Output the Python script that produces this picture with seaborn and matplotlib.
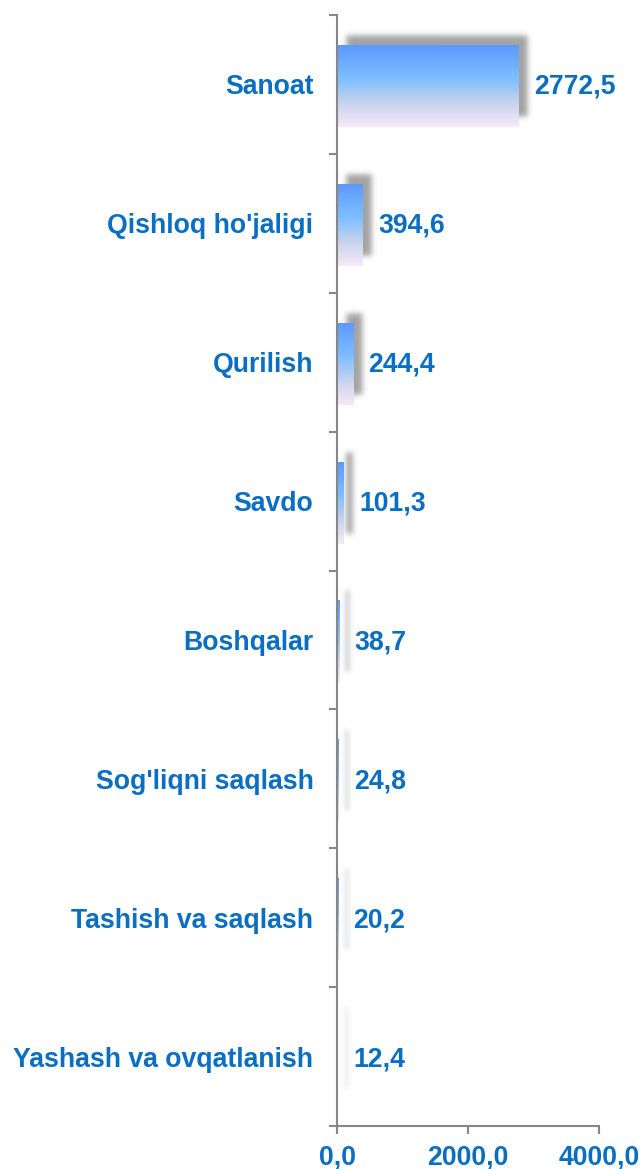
import math
import numpy as np
import pandas as pd
import matplotlib
matplotlib.use("Agg")
import matplotlib.pyplot as plt
import seaborn as sns
from matplotlib.ticker import FuncFormatter, FixedLocator

categories = ["Sanoat", "Qishloq ho'jaligi", "Qurilish", "Savdo", "Boshqalar",
              "Sog'liqni saqlash", "Tashish va saqlash", "Yashash va ovqatlanish"]
values = [2772.5, 394.6, 244.4, 101.3, 38.7, 24.8, 20.2, 12.4]
value_labels = ["2772,5", "394,6", "244,4", "101,3", "38,7", "24,8", "20,2", "12,4"]
x_ticks = [0, 2000, 4000]

df = pd.DataFrame({"cat": categories, "val": values})

sns.set_theme(style="white")
plt.rcParams["font.family"] = ["Liberation Sans", "DejaVu Sans"]
plt.rcParams["font.weight"] = "bold"

BLUE = "#0A6FC2"
GRAY = "#878787"
FS = 19.2

fig = plt.figure(figsize=(6.43, 11.69), dpi=100)
W, H = 643, 1169
ax = fig.add_axes([337 / W, 1 - 1126 / H, (599 - 337) / W, (1126 - 15) / H])

sns.barplot(data=df, x="val", y="cat", orient="h", width=0.59, ax=ax,
            color="#5B9BFF", saturation=1)
ax.set_xlim(0, 4000)
ax.set_ylim(7.5, -0.5)

# pixel <-> data scale
px_x = 4000 / (599 - 337)
px_y = 8 / (1126 - 15)

# gradient
stops = np.array([0.0, 0.42, 0.68, 1.0])
cols = np.array([[0.36, 0.60, 1.00],
                 [0.50, 0.75, 1.00],
                 [0.76, 0.82, 0.93],
                 [0.98, 0.91, 0.97]])
t = np.linspace(0, 1, 200)
grad = np.stack([np.interp(t, stops, cols[:, k]) for k in range(3)], axis=1)
grad_img = grad[:, None, :]

verf = np.frompyfunc(math.erf, 1, 1)

def soft(u, a, b, s):
    return 0.5 * (verf((u - a) / s).astype(float) - verf((u - b) / s).astype(float))

for p in ax.patches:
    x0 = p.get_x()
    w = p.get_width()
    y0 = p.get_y() + 1.5 * px_y
    h = p.get_height()
    p.set_visible(False)
    # shadow
    sx0 = x0 + 9 * px_x
    sx1 = x0 + w + 9 * px_x
    sy0 = y0 - 10 * px_y
    sy1 = y0 + h - 10 * px_y
    pad = 14
    ex0 = sx0 - pad * px_x
    ex1 = sx1 + pad * px_x
    ey0 = sy0 - pad * px_y
    ey1 = sy1 + pad * px_y
    nx = int((ex1 - ex0) / px_x) + 1
    ny = int((ey1 - ey0) / px_y) + 1
    xs = np.linspace(ex0, ex1, nx)
    ys = np.linspace(ey0, ey1, ny)
    fx = soft(xs, sx0, sx1, 4.0 * px_x)
    fy = soft(ys, sy0, sy1, 4.0 * px_y)
    alpha = 0.45 * np.outer(fy, fx)
    img = np.zeros((ny, nx, 4))
    img[..., :3] = 0.2
    img[..., 3] = alpha
    ax.imshow(img, extent=(ex0, ex1, ey1, ey0), aspect="auto", zorder=1,
              interpolation="bilinear")
    # gradient bar
    ax.imshow(grad_img, extent=(x0, x0 + w, y0 + h, y0), aspect="auto",
              zorder=2, interpolation="bilinear")

ax.set_xlim(0, 4000)
ax.set_ylim(7.5, -0.5)

for i, (v, lab) in enumerate(zip(values, value_labels)):
    ax.annotate(lab, xy=(v, i), xytext=(11, -1.8), textcoords="offset points",
                ha="left", va="center", fontsize=FS, fontweight="bold",
                color=BLUE, zorder=5)

for s in ["top", "right"]:
    ax.spines[s].set_visible(False)
for s in ["left", "bottom"]:
    ax.spines[s].set_color(GRAY)
    ax.spines[s].set_linewidth(1.5)
    ax.spines[s].set_zorder(6)

ax.set_xlabel("")
ax.set_ylabel("")
ax.xaxis.set_major_locator(FixedLocator(x_ticks))
ax.xaxis.set_major_formatter(FuncFormatter(lambda v, p: f"{v:.1f}".replace(".", ",")))
ax.tick_params(axis="x", which="major", direction="out", length=5.8, width=1.5,
               color=GRAY, pad=7.5, labelsize=FS, labelcolor=BLUE, bottom=True)
ax.set_yticks(range(len(categories)))
ax.set_yticklabels(categories)
ax.set_yticks(np.arange(-0.5, len(categories), 1.0), minor=True)
ax.tick_params(axis="y", which="major", length=0, pad=17, labelsize=FS,
               labelcolor=BLUE, left=False)
ax.tick_params(axis="y", which="minor", direction="out", length=5.8, width=1.5,
               color=GRAY, left=True)
for lab in ax.get_xticklabels() + ax.get_yticklabels():
    lab.set_fontweight("bold")
    lab.set_y(lab.get_position()[1])
ax.grid(False)

fig.savefig("out.png", dpi=100)
